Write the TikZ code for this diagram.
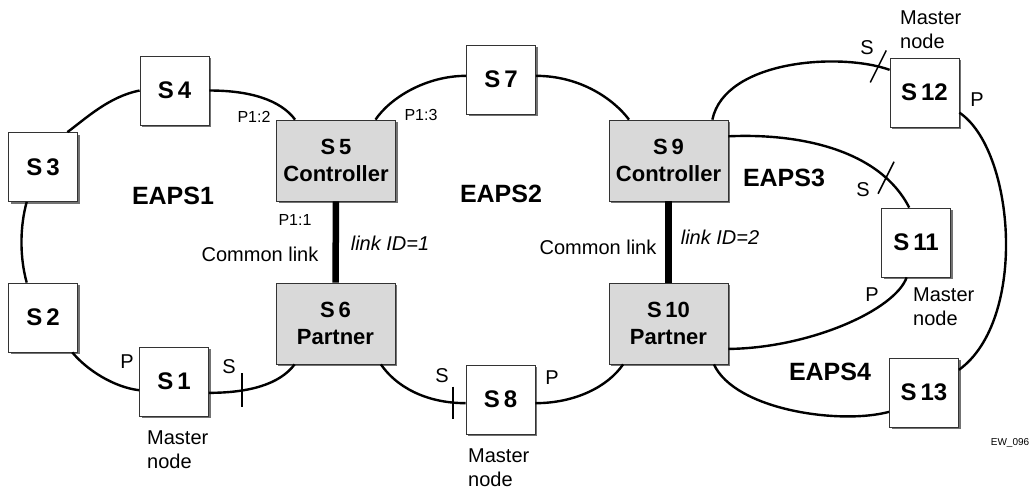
\documentclass[tikz,border=0pt]{standalone}
\usepackage{fontspec}
\setmainfont{Liberation Sans}
\usetikzlibrary{shadows}
\begin{document}
\begin{tikzpicture}[x=1pt,y=-1pt,
  sw/.style={draw=black!80, line width=0.8pt, fill=white, minimum width=69pt, minimum height=69pt, inner sep=0pt,
     font=\fontsize{24}{26}\selectfont\bfseries,
     drop shadow={shadow xshift=2pt, shadow yshift=-2pt, opacity=1, fill=black!55}},
  gw/.style={sw, fill=black!15, minimum width=119pt, minimum height=81pt, align=center,
     font=\fontsize{22}{27}\selectfont\bfseries},
  ring/.style={line width=2.4pt, black},
  common/.style={line width=6.5pt, black},
  tickmark/.style={line width=1.5pt, black},
  ringlbl/.style={font=\fontsize{25}{28}\selectfont\bfseries},
  portlbl/.style={font=\fontsize{16}{18}\selectfont},
  lbl/.style={font=\fontsize{20}{24}\selectfont},
  master/.style={font=\fontsize{20}{24}\selectfont, align=left, anchor=west, inner sep=0pt},
]
\useasboundingbox (0,0) rectangle (1031,491);

% switches
\node[sw] (s1) at (174,381.5) {S\,1};
\node[sw] (s2) at (43,317.5) {S\,2};
\node[sw] (s3) at (43,167) {S\,3};
\node[sw] (s4) at (174.5,90.5) {S\,4};
\node[gw] (s5) at (336,160.5) {S\,5\\Controller};
\node[gw] (s6) at (335.5,323.5) {S\,6\\Partner};
\node[sw] (s7) at (501,79.5) {S\,7};
\node[sw] (s8) at (500.5,399.5) {S\,8};
\node[gw] (s9) at (668.5,160.5) {S\,9\\Controller};
\node[gw] (s10) at (668.5,323.5) {S\,10\\Partner};
\node[sw] (s11) at (916,242.5) {S\,11};
\node[sw] (s12) at (924.5,92.5) {S\,12};
\node[sw] (s13) at (924,392.5) {S\,13};

% rings
\draw[ring] (s4.west) .. controls +(-30,6) and +(20,-15) .. (s3.55);
\draw[ring] (s3.245) .. controls +(-7,25) and +(-7,-25) .. (s2.115);
\draw[ring] (s2.-50) .. controls +(15,18) and +(-25,-3) .. (s1.194);
\draw[ring] (s1.-18) .. controls +(40,0) and +(-15,20) .. (s6.225) coordinate[pos=0.3] (t1);
\draw[ring] (s6.-42) .. controls +(15,22) and +(-40,0) .. (s8.186) coordinate[pos=0.89] (t2);
\draw[ring] (s8.-6) .. controls +(40,0) and +(-15,22) .. (s10.222);
\draw[ring] (s4.east) .. controls +(40,0) and +(-15,-20) .. (s5.135);
\draw[ring] (s5.46) .. controls +(15,-22) and +(-40,0) .. (s7.174);
\draw[ring] (s7.6) .. controls +(45,0) and +(-15,-20) .. (s9.134);
\draw[ring] (s9.43) .. controls (725,60) and (840,52) .. (s12.147) coordinate[pos=0.93] (t3);
\draw[ring] (s9.22) .. controls (800,133) and (880,150) .. (s11.101) coordinate[pos=0.8] (t4);
\draw[ring] (s11.255) .. controls (895,310) and (810,348) .. (s10.-23);
\draw[ring] (s12.-30) .. controls (1015,150) and (1028,320) .. (s13.33);
\draw[ring] (s10.-42) .. controls (735,410) and (840,425) .. (s13.209);

% common links
\draw[common] (s5.south) -- (s6.north);
\draw[common] (s9.south) -- (s10.north);

% blocked ports
\draw[tickmark] (t1) ++(0,-17) -- ++(0,34);
\draw[tickmark] (t2) ++(0,-16) -- ++(0,32);
\draw[tickmark] (t3) ++(-8,16) -- ++(16,-32);
\draw[tickmark] (t4) ++(-8,16) -- ++(16,-32);

% ring labels
\node[ringlbl] (e1) at (173,196) {EAPS1};
\node[ringlbl] (e2) at (501,194) {EAPS2};
\node[ringlbl] (e3) at (784,178) {EAPS3};
\node[ringlbl] (e4) at (830,372) {EAPS4};

% port labels
\node[portlbl] (p12) at (254,117) {P1:2};
\node[portlbl] (p13) at (421,115) {P1:3};
\node[portlbl] (p11) at (295,220) {P1:1};

\node[lbl] (cl1) at (260,254) {Common link};
\node[lbl] (cl2) at (598,247) {Common link};
\node[lbl, font=\fontsize{20}{24}\selectfont\itshape] (id1) at (390,243) {link ID=1};
\node[lbl, font=\fontsize{20}{24}\selectfont\itshape] (id2) at (720,237) {link ID=2};

\node[lbl] (s1p) at (127,362) {P};
\node[lbl] (s1s) at (229,367) {S};
\node[lbl] (s8s) at (442,376) {S};
\node[lbl] (s8p) at (552,378) {P};
\node[lbl] (s12s) at (867,48) {S};
\node[lbl] (s12p) at (977,100) {P};
\node[lbl] (s11s) at (863,190) {S};
\node[lbl] (s11p) at (872,295) {P};

\node[master] (m1) at (147,450) {Master\\node};
\node[master] (m8) at (468,468) {Master\\node};
\node[master] (m12) at (900,30) {Master\\node};
\node[master] (m11) at (913,306.5) {Master\\node};

\node[font=\fontsize{10}{12}\selectfont] (ew) at (1010,443) {EW\_096};
\end{tikzpicture}
\end{document}
